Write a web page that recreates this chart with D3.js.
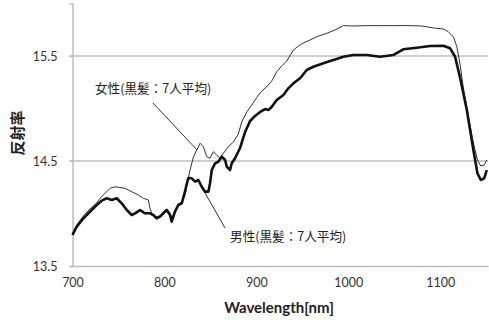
<!DOCTYPE html>
<html>
<head>
<meta charset="utf-8">
<script src="https://cdn.jsdelivr.net/npm/d3@7"></script>
<style>
  html, body { margin: 0; padding: 0; background: #fff; }
  svg { display: block; }
</style>
</head>
<body>
<div id="chart"></div>
<script>
// reflectance spectra

// female (black hair, 7-person average) - thin line
const femaleWavelength = [700, 704.6, 711.8, 719, 726.3, 729.9, 735.4, 740.8, 746.2, 757.1, 764.4, 771.6, 777, 782.5, 784.3, 786.2, 789.8, 795.2, 798.8, 802.5, 806.1, 807.9, 811.5, 815.1, 818.8, 822.4, 826, 827.9, 831.5, 835.2, 838.8, 842.4, 846, 849.6, 853.2, 856.9, 860.5, 864.1, 869.5, 875, 880.4, 884.1, 889.6, 895, 900.4, 905.9, 911.3, 916.8, 922.2, 927.6, 933.1, 940.3, 945.7, 951.1, 958.4, 965.7, 976.6, 985.6, 994.7, 1005.5, 1020.1, 1034.6, 1049.1, 1063.6, 1080, 1092.6, 1103.5, 1108.9, 1114.4, 1118.1, 1121.7, 1125.2, 1130.7, 1136.1, 1140.5, 1144.2, 1147.8, 1150.7];
const femaleReflect = [13.814, 13.89, 13.976, 14.043, 14.1, 14.145, 14.192, 14.24, 14.255, 14.24, 14.208, 14.176, 14.145, 14.129, 14.05, 14.002, 13.97, 13.976, 14.014, 14.043, 14.005, 13.948, 14.033, 14.09, 14.11, 14.176, 14.338, 14.414, 14.538, 14.605, 14.669, 14.636, 14.541, 14.526, 14.589, 14.557, 14.526, 14.573, 14.636, 14.681, 14.757, 14.871, 14.967, 15.033, 15.105, 15.167, 15.208, 15.262, 15.351, 15.405, 15.452, 15.557, 15.595, 15.624, 15.652, 15.684, 15.716, 15.748, 15.789, 15.786, 15.789, 15.789, 15.789, 15.79, 15.786, 15.767, 15.757, 15.731, 15.681, 15.589, 15.414, 15.195, 14.919, 14.671, 14.51, 14.452, 14.462, 14.51];

// male (black hair, 7-person average) - thick line
const maleWavelength = [700, 704.6, 711.8, 719, 726.3, 731.8, 737.2, 742.7, 748.1, 753.5, 759, 764.4, 768, 773.5, 778.9, 784.3, 787.9, 791.6, 795.2, 798.8, 802.5, 806.1, 807.9, 811.5, 815.1, 818.8, 822.4, 824, 826, 829.7, 833.3, 836.9, 840.6, 844.2, 847.8, 849.6, 851.5, 855.1, 858.6, 862.4, 866, 867.8, 871.4, 873.2, 876.8, 882.3, 887.7, 893.2, 898.6, 904.1, 909.5, 913.1, 916.8, 922.2, 929.4, 934.8, 940.3, 947.6, 954.8, 962, 972.9, 983.8, 994.7, 1005.5, 1020.1, 1034.6, 1049.1, 1059.9, 1074.5, 1089, 1103.5, 1110.8, 1116.2, 1121.7, 1129, 1136.1, 1140.5, 1144.2, 1147.8, 1150.7];
const maleReflect = [13.795, 13.874, 13.954, 14.017, 14.081, 14.122, 14.145, 14.129, 14.145, 14.097, 14.033, 13.986, 14.002, 14.033, 14.002, 14.002, 13.986, 13.954, 13.97, 14.002, 14.033, 13.986, 13.922, 14.017, 14.081, 14.097, 14.208, 14.271, 14.338, 14.335, 14.303, 14.319, 14.255, 14.208, 14.208, 14.288, 14.414, 14.478, 14.493, 14.541, 14.51, 14.446, 14.414, 14.478, 14.526, 14.624, 14.776, 14.881, 14.929, 14.967, 14.995, 14.986, 15.017, 15.081, 15.129, 15.192, 15.24, 15.288, 15.367, 15.398, 15.43, 15.462, 15.493, 15.51, 15.51, 15.493, 15.51, 15.564, 15.579, 15.595, 15.598, 15.573, 15.493, 15.29, 14.986, 14.605, 14.383, 14.319, 14.335, 14.414];

const xTicks = [700, 800, 900, 1000, 1100];
const yTicks = [13.5, 14.5, 15.5];

// callouts: label position and leader line, in data units
const annotations = [
  { text: "女性(黒髪：7人平均)", labelAt: [724.5, 15.148], from: [787.6, 15.052], to: [835.5, 14.605] },
  { text: "男性(黒髪：7人平均)", labelAt: [871.4, 13.738], from: [865.9, 13.862], to: [844.2, 14.195] }
];

const W = 489, H = 320;
const margin = { top: 3.5, right: 1, bottom: 54, left: 72.5 };

const svg = d3.select("#chart").append("svg")
  .attr("width", W)
  .attr("height", H);

const x = d3.scaleLinear()
  .domain([700, 1152])
  .range([margin.left, W - margin.right]);

const y = d3.scaleLinear()
  .domain([13.5, 16.0])
  .range([H - margin.bottom, margin.top]);

const gridColor = "#bdbdbd";

// horizontal gridlines
svg.append("g")
  .selectAll("line")
  .data(yTicks.slice(1))
  .join("line")
  .attr("x1", x.range()[0] - 3)
  .attr("x2", x.range()[1])
  .attr("y1", d => y(d))
  .attr("y2", d => y(d))
  .attr("stroke", gridColor)
  .attr("stroke-width", 1.5);

// y axis
const yAxis = svg.append("g")
  .attr("transform", `translate(${margin.left},0)`)
  .call(d3.axisLeft(y).tickValues(yTicks).tickSize(3).tickPadding(12).tickFormat(d3.format(".1f")));
yAxis.select(".domain").attr("stroke", gridColor).attr("stroke-width", 1.5);
yAxis.selectAll(".tick line").attr("stroke", gridColor).attr("stroke-width", 1.5);
yAxis.selectAll("text")
  .attr("fill", "#333")
  .style("font-family", "Lato, 'Open Sans', sans-serif")
  .style("font-size", "12.5px");

// x axis
const xAxis = svg.append("g")
  .attr("transform", `translate(0,${H - margin.bottom})`)
  .call(d3.axisBottom(x).tickValues(xTicks).tickSize(0).tickPadding(12).tickFormat(d3.format("d")));
xAxis.select(".domain").attr("stroke", gridColor).attr("stroke-width", 1.5);
xAxis.selectAll("text")
  .attr("fill", "#333")
  .style("font-family", "Lato, 'Open Sans', sans-serif")
  .style("font-size", "12.5px");

// axis titles
svg.append("text")
  .attr("transform", `translate(19,133) rotate(-90)`)
  .attr("text-anchor", "middle")
  .attr("dominant-baseline", "middle")
  .style("font-family", "'Noto Sans CJK JP', sans-serif")
  .style("font-size", "15px")
  .style("font-weight", "bold")
  .attr("fill", "#222")
  .text("反射率");

svg.append("text")
  .attr("x", 279)
  .attr("y", 313)
  .attr("text-anchor", "middle")
  .style("font-family", "Lato, 'Open Sans', sans-serif")
  .style("font-size", "15px")
  .style("font-weight", "bold")
  .attr("fill", "#222")
  .text("Wavelength[nm]");

// spectra
const line = d3.line()
  .x(d => x(d[0]))
  .y(d => y(d[1]));

const female = femaleWavelength.map((w, i) => [w, femaleReflect[i]]);
const male = maleWavelength.map((w, i) => [w, maleReflect[i]]);

svg.append("path")
  .datum(female)
  .attr("fill", "none")
  .attr("stroke", "#333")
  .attr("stroke-width", 1)
  .attr("stroke-linejoin", "round")
  .attr("d", line);

svg.append("path")
  .datum(male)
  .attr("fill", "none")
  .attr("stroke", "#111")
  .attr("stroke-width", 2.6)
  .attr("stroke-linejoin", "round")
  .attr("d", line);

// callouts
annotations.forEach(a => {
  svg.append("line")
    .attr("x1", x(a.from[0]))
    .attr("y1", y(a.from[1]))
    .attr("x2", x(a.to[0]))
    .attr("y2", y(a.to[1]))
    .attr("stroke", "#333")
    .attr("stroke-width", 1);

  svg.append("text")
    .attr("x", x(a.labelAt[0]))
    .attr("y", y(a.labelAt[1]))
    .style("font-family", "'Noto Sans CJK JP', sans-serif")
    .style("font-size", "12.6px")
    .attr("fill", "#222")
    .text(a.text);
});
</script>
</body>
</html>
